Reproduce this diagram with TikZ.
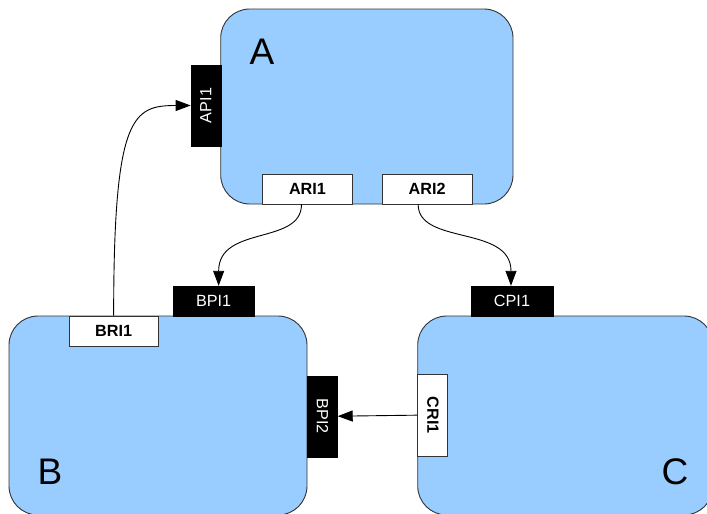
\documentclass[tikz,border=0pt]{standalone}
\usepackage{fontspec}
\setmainfont{Liberation Sans}
\usetikzlibrary{arrows.meta}
\definecolor{unitblue}{HTML}{99CCFF}
\definecolor{edgegray}{HTML}{333333}

\begin{document}
\begin{tikzpicture}[x=1pt,y=-1pt,
  unit/.style={draw=edgegray, line width=0.9pt, fill=unitblue,
    rounded corners=29pt, inner sep=0pt},
  unitname/.style={inner sep=0pt, font=\fontsize{37}{40}\selectfont},
  provport/.style={fill=black, draw=black, inner sep=0pt, text=white,
    font=\fontsize{16.2}{18}\selectfont},
  reqport/.style={fill=white, draw=edgegray, line width=0.8pt, inner sep=0pt,
    font=\fontsize{16.2}{18}\selectfont\bfseries},
  hport/.style={minimum width=#1, minimum height=30pt},
  vport/.style={minimum width=30pt, minimum height=#1},
  link/.style={draw=black, line width=0.9pt,
    -{Triangle[length=15pt,width=11pt]}}
]
\useasboundingbox (0,0) rectangle (707,514);
\clip (0,0) rectangle (707,514);

% components
\node[unit, minimum width=292.3pt, minimum height=195pt] (A) at (366.85,106.5) {};
\node[unit, minimum width=298pt, minimum height=199pt] (B) at (158,415.5) {};
\node[unit, minimum width=295.3pt, minimum height=199pt] (C) at (565.35,415.5) {};

\node[unitname] (nA) at (262,51.5) {A};
\node[unitname] (nB) at (50,471.5) {B};
\node[unitname] (nC) at (675,472) {C};

% provided ports
\node[provport, vport=81pt] (API1) at (205.85,105.5) {\rotatebox{90}{API1}};
\node[provport, hport=81.3pt] (BPI1) at (213.65,301) {BPI1};
\node[provport, vport=81pt] (BPI2) at (322.5,416.2) {\rotatebox{-90}{BPI2}};
\node[provport, hport=81.4pt] (CPI1) at (512,301) {CPI1};

% required ports
\node[reqport, hport=89.6pt] (ARI1) at (307.5,189) {ARI1};
\node[reqport, hport=89.7pt] (ARI2) at (427.15,189) {ARI2};
\node[reqport, hport=89.3pt] (BRI1) at (113.65,331) {BRI1};
\node[reqport, vport=81.7pt] (CRI1) at (432.85,415.15) {\rotatebox{-90}{CRI1}};

% connections
\draw[link] (BRI1.north) .. controls +(0,-200) and +(-58,0) .. (API1.west);
\draw[link] ([xshift=-6pt]ARI1.south) .. controls +(0,41) and +(0,-61) .. ([xshift=5pt]BPI1.north);
\draw[link] ([xshift=-9pt]ARI2.south) .. controls +(0,41) and +(0,-61) .. ([xshift=-1pt]CPI1.north);
\draw[link] (CRI1.west) -- (BPI2.east);
\end{tikzpicture}
\end{document}
